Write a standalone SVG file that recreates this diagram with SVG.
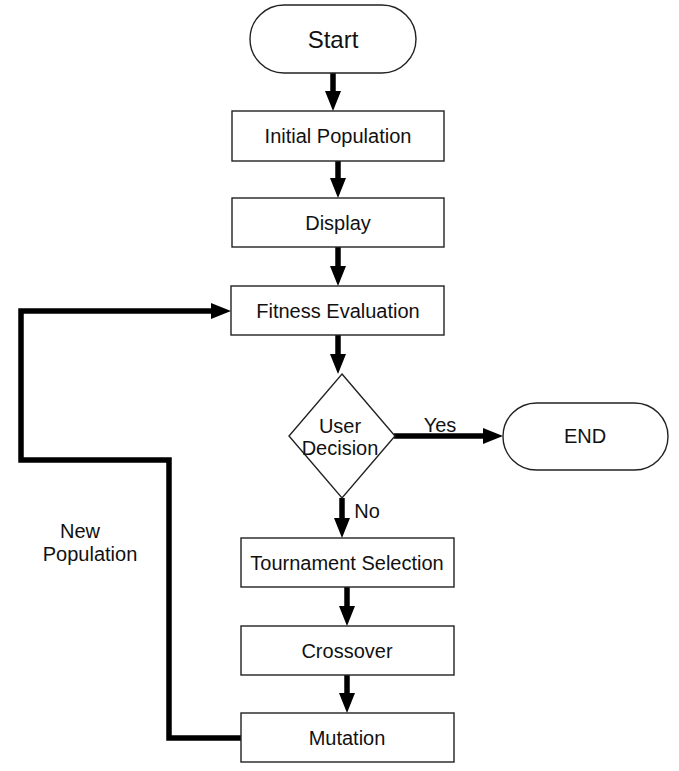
<svg xmlns="http://www.w3.org/2000/svg" width="679" height="771" viewBox="0 0 679 771">
<style>
.box{fill:#fff;stroke:#222;stroke-width:1.4}
.t{font-family:"Liberation Sans",Arial,sans-serif;font-size:20px;fill:#111;text-anchor:middle}
.c{fill:none;stroke:#000;stroke-width:5.5}
</style>
<defs>
<marker id="ah" markerUnits="userSpaceOnUse" markerWidth="20" markerHeight="16" refX="12" refY="8" orient="auto" viewBox="0 0 20 16">
<path d="M0,0 L20,8 L0,16 z" fill="#000"/>
</marker>
</defs>
<rect width="679" height="771" fill="#fff"/>
<g id="connectors">
<line class="c" x1="333" y1="73" x2="333" y2="103" marker-end="url(#ah)"/>
<line class="c" x1="338" y1="161" x2="338" y2="190" marker-end="url(#ah)"/>
<line class="c" x1="338" y1="247" x2="338" y2="278" marker-end="url(#ah)"/>
<line class="c" x1="338" y1="335" x2="338" y2="366" marker-end="url(#ah)"/>
<line class="c" x1="394" y1="436" x2="495" y2="436" marker-end="url(#ah)"/>
<line class="c" x1="342" y1="498" x2="342" y2="530" marker-end="url(#ah)"/>
<line class="c" x1="347" y1="587" x2="347" y2="618" marker-end="url(#ah)"/>
<line class="c" x1="347" y1="675" x2="347" y2="705" marker-end="url(#ah)"/>
<path class="c" d="M241,738 H169 V460 H21 V311 H223" marker-end="url(#ah)"/>
<text class="t" x="440" y="432">Yes</text>
<text class="t" x="367" y="518">No</text>
<text class="t" x="80" y="538">New</text>
<text class="t" x="90" y="561">Population</text>
</g>
<g id="start">
<rect class="box" x="250" y="5" width="166" height="68" rx="34"/>
<text class="t" x="333" y="48" style="font-size:24px">Start</text>
</g>
<g id="initial">
<rect class="box" x="232" y="111" width="212" height="50"/>
<text class="t" x="338" y="143">Initial Population</text>
</g>
<g id="display">
<rect class="box" x="232" y="198" width="212" height="49"/>
<text class="t" x="338" y="230">Display</text>
</g>
<g id="fitness">
<rect class="box" x="231" y="286" width="213" height="49"/>
<text class="t" x="338" y="318">Fitness Evaluation</text>
</g>
<g id="decision">
<polygon class="box" points="342,374 395,436 342,498 289,436"/>
<text class="t" x="340" y="433">User</text>
<text class="t" x="340" y="455">Decision</text>
</g>
<g id="end">
<rect class="box" x="503" y="403" width="165" height="67" rx="33.5"/>
<text class="t" x="585" y="443">END</text>
</g>
<g id="tournament">
<rect class="box" x="241" y="538" width="213" height="49"/>
<text class="t" x="347" y="570">Tournament Selection</text>
</g>
<g id="crossover">
<rect class="box" x="241" y="626" width="213" height="49"/>
<text class="t" x="347" y="658">Crossover</text>
</g>
<g id="mutation">
<rect class="box" x="241" y="713" width="213" height="49"/>
<text class="t" x="347" y="745">Mutation</text>
</g>
</svg>
